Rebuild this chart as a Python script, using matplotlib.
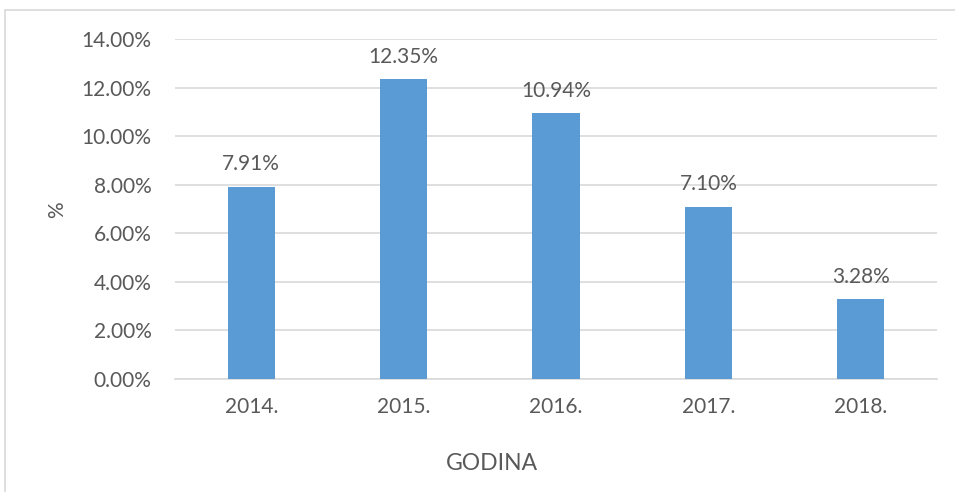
import matplotlib
matplotlib.use("Agg")
import matplotlib.pyplot as plt
from matplotlib.patches import Rectangle
from matplotlib.ticker import FuncFormatter

categories = ["2014.", "2015.", "2016.", "2017.", "2018."]
values = [7.91, 12.35, 10.94, 7.10, 3.28]
value_labels = ["7.91%", "12.35%", "10.94%", "7.10%", "3.28%"]

plt.rcParams['font.family'] = ['Lato', 'DejaVu Sans']
txt = '#595959'
grid = '#D9D9D9'
fs = 15

W, H = 955, 492
fig = plt.figure(figsize=(W/100, H/100), dpi=100)
fig.patches.append(Rectangle((5/W, -0.1), 1.1, 1.1 - 10/H,
                             transform=fig.transFigure, fill=False,
                             edgecolor='#D9D9D9', linewidth=1.2))
ax = fig.add_axes([175/W, 1-379/H, (937-175)/W, (379-39)/H])

x = list(range(len(categories)))
ax.bar(x, values, width=0.31, color='#5B9BD5', zorder=3)
for xi, v, lab in zip(x, values, value_labels):
    ax.annotate(lab, (xi, v), xytext=(0, 9), textcoords='offset points',
                ha='center', va='bottom', fontsize=fs, color=txt)

ax.set_xlim(-0.5, 4.5)
ax.set_ylim(0, 14)
ax.set_yticks([0, 2, 4, 6, 8, 10, 12, 14])
ax.yaxis.set_major_formatter(FuncFormatter(lambda v, p: f"{v:.2f}%"))
ax.set_xticks(x)
ax.set_xticklabels(categories)
ax.grid(axis='y', color=grid, linewidth=1.2, zorder=0)
for s in ['top', 'right', 'left']:
    ax.spines[s].set_visible(False)
ax.spines['bottom'].set_color(grid)
ax.spines['bottom'].set_linewidth(1.2)
ax.tick_params(axis='both', length=0, labelsize=fs, colors=txt)
ax.tick_params(axis='x', pad=13)
ax.tick_params(axis='y', pad=17)

fig.text(57/W, 1-210/H, '%', rotation=90, ha='center', va='center',
         fontsize=fs, color=txt)
fig.text(492/W, 1-464/H, 'GODINA', ha='center', va='center',
         fontsize=16.5, color=txt)

fig.savefig('out.png', dpi=100)
